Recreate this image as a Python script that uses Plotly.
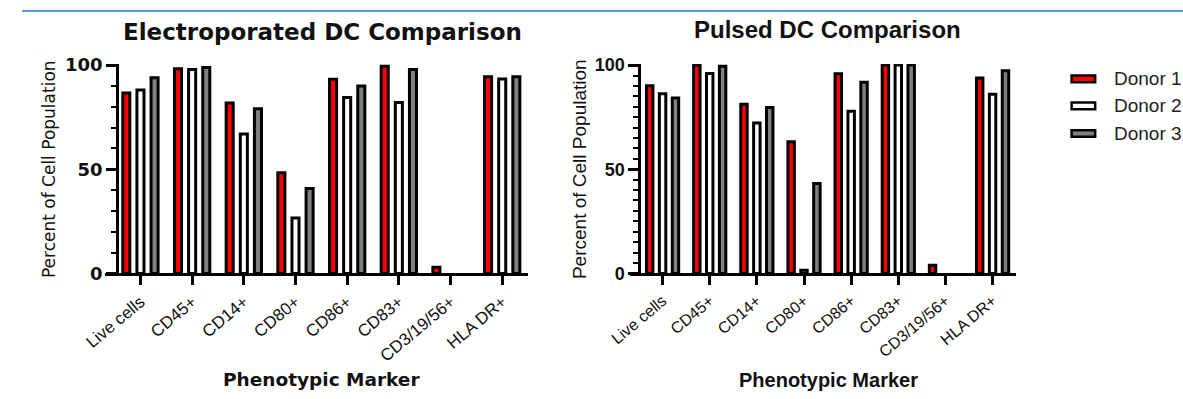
import plotly.graph_objects as go

W, H = 1183, 399

markers = ["Live cells", "CD45+", "CD14+", "CD80+", "CD86+", "CD83+", "CD3/19/56+", "HLA DR+"]
donors = ["Donor 1", "Donor 2", "Donor 3"]
donor_colors = ["#FF0000", "#FFFFFF", "#808080"]

elec_d1 = [86.6, 98.2, 81.8, 48.3, 93.2, 99.4, 3.0, 94.4]
elec_d2 = [88.0, 97.9, 66.9, 26.6, 84.5, 82.1, 0, 93.3]
elec_d3 = [93.9, 98.8, 79.0, 40.7, 90.0, 97.9, 0, 94.4]

pulsed_d1 = [90.1, 100, 81.2, 63.2, 95.8, 100, 3.9, 93.8]
pulsed_d2 = [86.2, 96.0, 72.2, 1.5, 77.8, 100, 0, 86.0]
pulsed_d3 = [84.2, 99.4, 79.6, 43.1, 91.8, 100, 0, 97.3]

y_ticks = [0, 50, 100]


def px(x):
    return x / W


def py(y):
    return 1 - y / H


fig = go.Figure()


def add_bars(series, xa, ya):
    for vals, name, col in zip(series, donors, donor_colors):
        fig.add_trace(go.Bar(
            x=markers, y=vals, name=name, xaxis=xa, yaxis=ya,
            marker=dict(color=col,
                        line=dict(color="black", width=[3 if v > 0 else 0 for v in vals])),
            showlegend=False))


add_bars([elec_d1, elec_d2, elec_d3], "x", "y")
add_bars([pulsed_d1, pulsed_d2, pulsed_d3], "x2", "y2")

ydom = [py(277.3), py(56.9)]


def xax(dom, rng, size, anchor):
    return dict(domain=dom, range=rng, anchor=anchor,
                showline=True, linecolor="black", linewidth=3,
                ticks="outside", ticklen=9, tickwidth=3, tickcolor="black",
                tickangle=-40, showgrid=False, zeroline=False,
                tickfont=dict(family="Liberation Sans", size=size, color="#111"))


def yax(pos, font, minor_dt):
    return dict(domain=ydom, range=[0, 100.5], anchor="free", position=pos,
                showline=True, linecolor="black", linewidth=3,
                ticks="outside", ticklen=10, tickwidth=3, tickcolor="black",
                tickmode="array", tickvals=y_ticks,
                minor=dict(dtick=minor_dt, tick0=0, ticks="outside", ticklen=5,
                           tickwidth=2, tickcolor="black", showgrid=False),
                showgrid=False, zeroline=False, tickfont=font)


fig.update_layout(
    width=W, height=H, autosize=False,
    margin=dict(l=0, r=0, t=0, b=0),
    paper_bgcolor="white", plot_bgcolor="white",
    barmode="group", bargap=0.18, bargroupgap=0.5,
    showlegend=False,
    xaxis=xax([px(85), px(516)], [-0.678, 7.507], 17, "y"),
    yaxis=yax(px(97), dict(family="DejaVu Sans", size=18, color="#111", weight="bold"), 10),
    xaxis2=xax([px(620), px(1013)], [-0.681, 7.5], 16, "y2"),
    yaxis2=yax(px(629), dict(family="Liberation Sans", size=18, color="#111", weight="bold"), 5),
)

ann = []
ann.append(dict(text="<b>Electroporated DC Comparison</b>", x=px(306), y=py(23.3),
                font=dict(family="DejaVu Sans", size=23, color="#111")))
ann.append(dict(text="<b>Pulsed DC Comparison</b>", x=px(821), y=py(20.7),
                font=dict(family="Liberation Sans", size=24, color="#111")))
ann.append(dict(text="<b>Phenotypic Marker</b>", x=px(305), y=py(389),
                font=dict(family="DejaVu Sans", size=18.5, color="#111")))
ann.append(dict(text="<b>Phenotypic Marker</b>", x=px(821.5), y=py(389),
                font=dict(family="Liberation Sans", size=20, color="#111")))
ann.append(dict(text="Percent of Cell Population", x=px(27.5), y=py(167.5), textangle=-90,
                font=dict(family="DejaVu Sans", size=17, color="#111")))
ann.append(dict(text="Percent of Cell Population", x=px(568), y=py(167), textangle=-90,
                font=dict(family="Liberation Sans", size=19, color="#111")))

shapes = [dict(type="line", xref="paper", yref="paper", x0=0, x1=1, y0=py(1), y1=py(1),
               line=dict(color="#5b9bd5", width=2))]

leg_y = [72.5, 101, 130]
for name, col, yc in zip(donors, donor_colors, leg_y):
    shapes.append(dict(type="rect", xref="paper", yref="paper",
                       x0=px(1069.5), x1=px(1093.5), y0=py(yc + 3.5), y1=py(yc - 3.5),
                       fillcolor=col, line=dict(color="black", width=2.5)))
    ann.append(dict(text=name, x=px(1110.5), y=py(yc), xanchor="left",
                    font=dict(family="Liberation Sans", size=19, color="#222")))

for a in ann:
    a.setdefault("xanchor", "center")
    a.update(xref="paper", yref="paper", yanchor="middle", showarrow=False)

fig.update_layout(annotations=ann, shapes=shapes)

fig.write_html("out.html",
               config={"displayModeBar": False, "staticPlot": True},
               post_script="document.body.style.margin='0';document.body.style.overflow='hidden';")
